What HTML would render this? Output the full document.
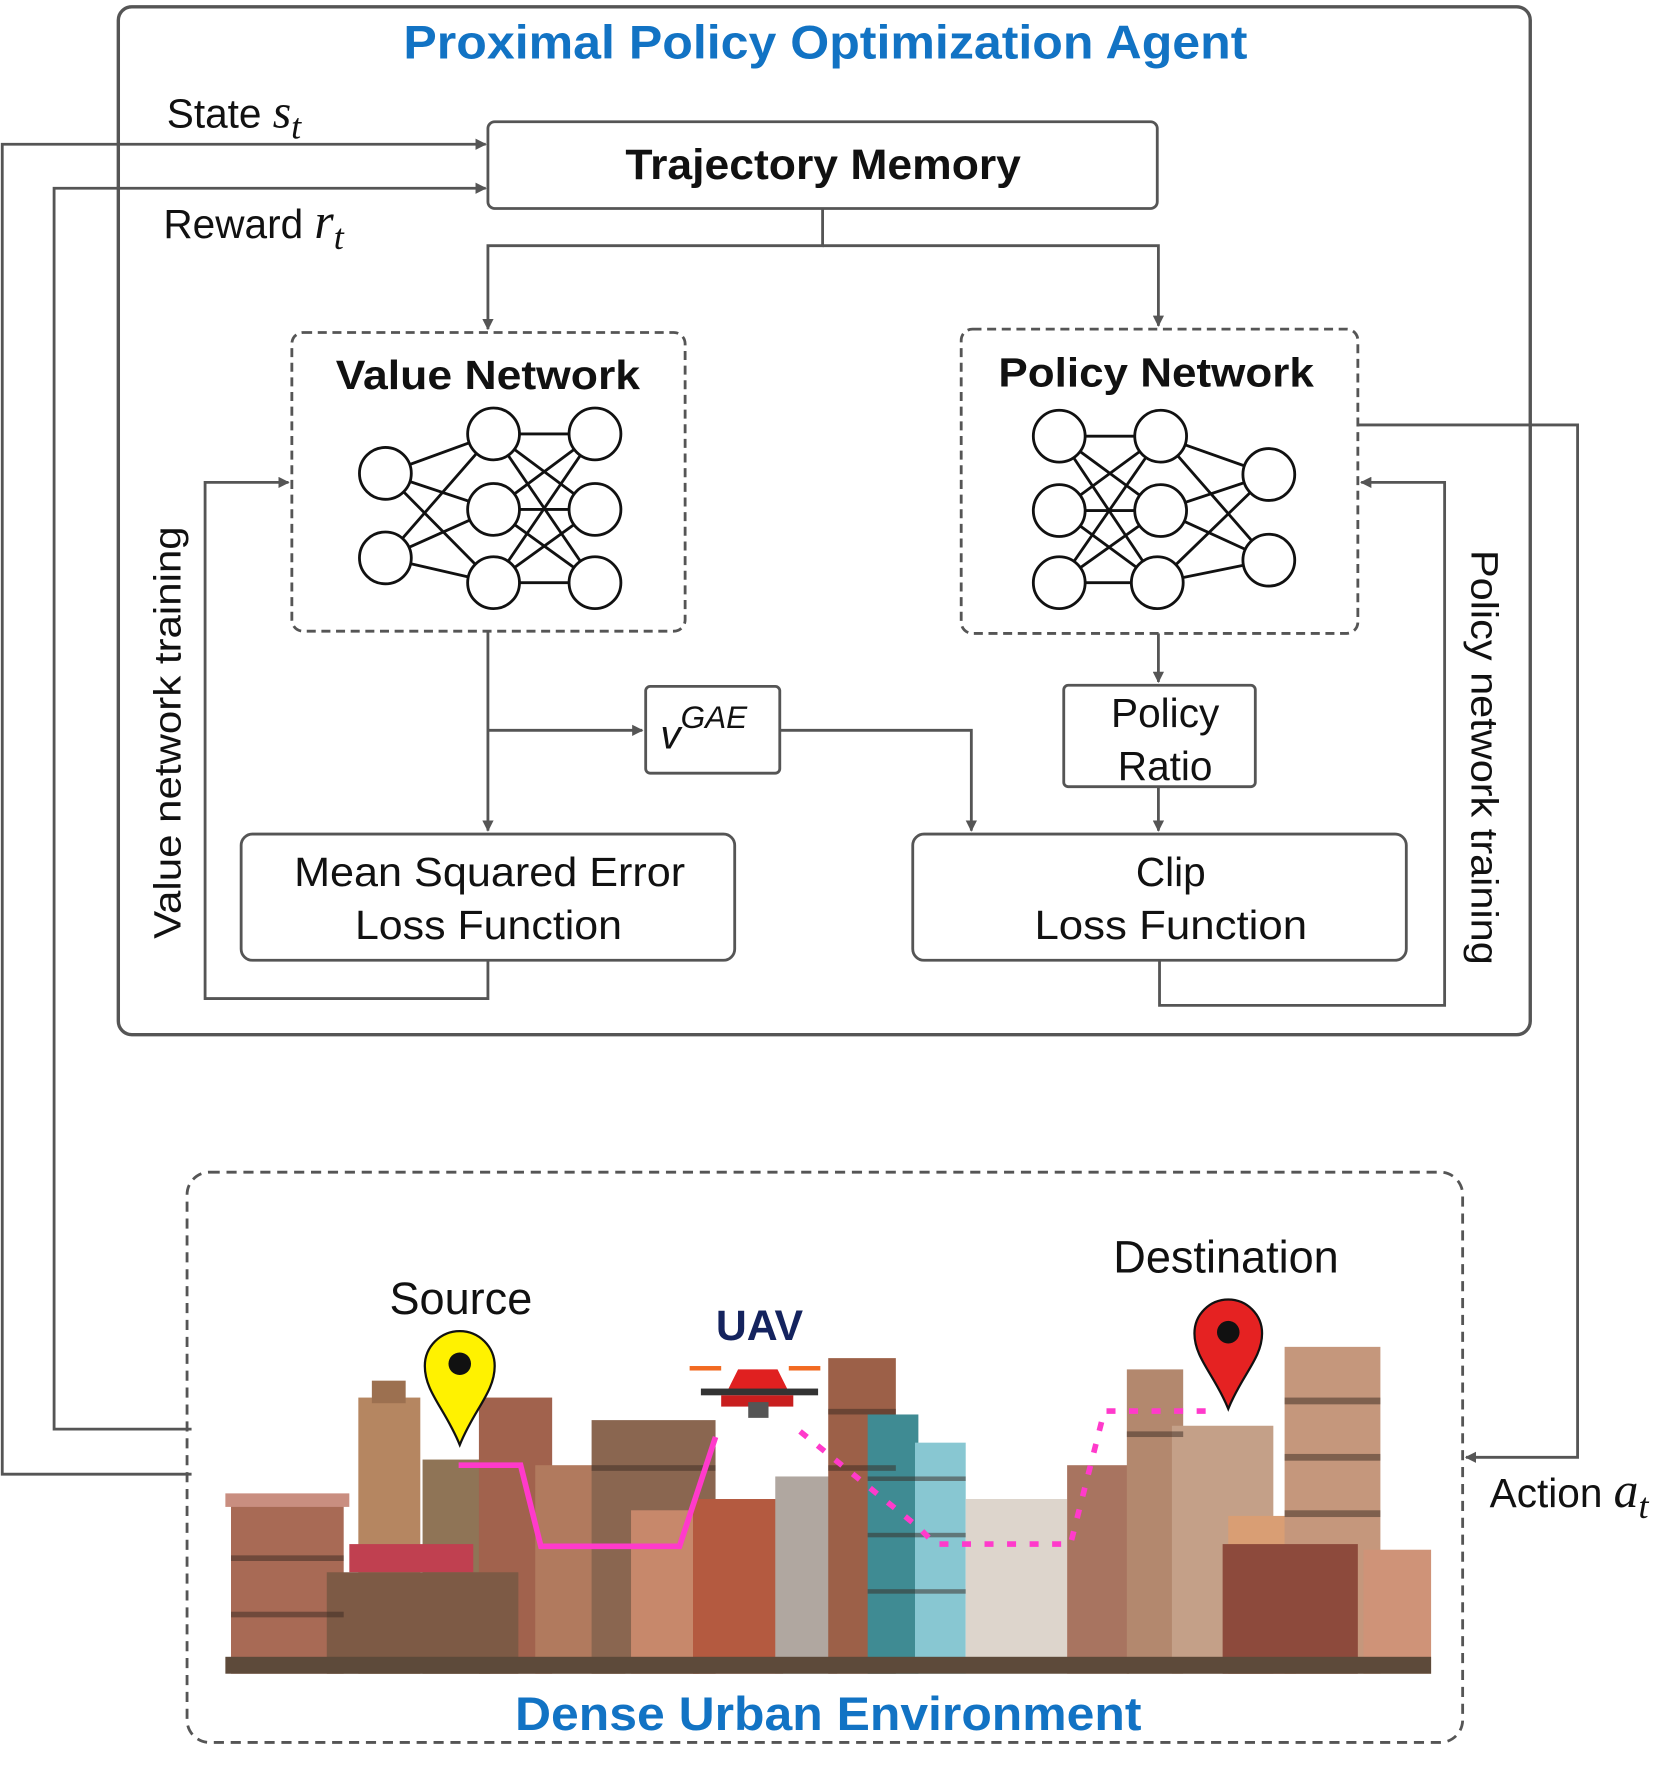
<!DOCTYPE html>
<html><head><meta charset="utf-8"><style>
html,body{margin:0;padding:0;background:#fff;}
svg{display:block;}
text{font-family:"Liberation Sans",sans-serif;}
</style></head><body>
<svg width="1679" height="1765" viewBox="0 0 1490 1566" preserveAspectRatio="none" xmlns="http://www.w3.org/2000/svg">
<defs>
<marker id="a" markerWidth="10" markerHeight="10" refX="9" refY="5" orient="auto" markerUnits="userSpaceOnUse"><path d="M0,0 L10,5 L0,10 z" fill="#555"/></marker>
</defs>
<g fill="none" stroke="#555" stroke-width="2.5">
<rect x="105" y="6" width="1253" height="912" rx="12" stroke-width="3"/>
<rect x="433" y="108" width="594" height="77" rx="6"/>
<rect x="259" y="295" width="349" height="265" rx="10" stroke-dasharray="8,5"/>
<rect x="853" y="292" width="352" height="270" rx="10" stroke-dasharray="8,5"/>
<rect x="573" y="609" width="119" height="77" rx="4"/>
<rect x="944" y="608" width="170" height="90" rx="4"/>
<rect x="214" y="740" width="438" height="112" rx="10"/>
<rect x="810" y="740" width="438" height="112" rx="10"/>
<rect x="166" y="1040" width="1132" height="506" rx="20" stroke-dasharray="9,6"/>
<path d="M170,1308 L2,1308 L2,128 L431,128" marker-end="url(#a)"/>
<path d="M170,1268 L48,1268 L48,167 L431,167" marker-end="url(#a)"/>
<path d="M730,185 L730,218 L433,218 L433,292" marker-end="url(#a)"/>
<path d="M730,218 L1028,218 L1028,289" marker-end="url(#a)"/>
<path d="M433,560 L433,737" marker-end="url(#a)"/>
<path d="M433,648 L570,648" marker-end="url(#a)"/>
<path d="M692,648 L862,648 L862,737" marker-end="url(#a)"/>
<path d="M1028,562 L1028,605" marker-end="url(#a)"/>
<path d="M1028,698 L1028,737" marker-end="url(#a)"/>
<path d="M433,852 L433,886 L182,886 L182,428 L256,428" marker-end="url(#a)"/>
<path d="M1029,852 L1029,892 L1282,892 L1282,428 L1208,428" marker-end="url(#a)"/>
<path d="M1205,377 L1400,377 L1400,1293 L1301,1293" marker-end="url(#a)"/>
</g>
<g stroke="#111" stroke-width="2.5">
<line x1="342" y1="420" x2="438" y2="385"/><line x1="342" y1="420" x2="438" y2="452"/><line x1="342" y1="420" x2="438" y2="517"/>
<line x1="342" y1="495" x2="438" y2="385"/><line x1="342" y1="495" x2="438" y2="452"/><line x1="342" y1="495" x2="438" y2="517"/>
<line x1="438" y1="385" x2="528" y2="385"/><line x1="438" y1="385" x2="528" y2="452"/><line x1="438" y1="385" x2="528" y2="517"/>
<line x1="438" y1="452" x2="528" y2="385"/><line x1="438" y1="452" x2="528" y2="452"/><line x1="438" y1="452" x2="528" y2="517"/>
<line x1="438" y1="517" x2="528" y2="385"/><line x1="438" y1="517" x2="528" y2="452"/><line x1="438" y1="517" x2="528" y2="517"/>
<line x1="940" y1="387" x2="1030" y2="387"/><line x1="940" y1="387" x2="1030" y2="453"/><line x1="940" y1="387" x2="1027" y2="517"/>
<line x1="940" y1="453" x2="1030" y2="387"/><line x1="940" y1="453" x2="1030" y2="453"/><line x1="940" y1="453" x2="1027" y2="517"/>
<line x1="940" y1="517" x2="1030" y2="387"/><line x1="940" y1="517" x2="1030" y2="453"/><line x1="940" y1="517" x2="1027" y2="517"/>
<line x1="1030" y1="387" x2="1126" y2="421"/><line x1="1030" y1="387" x2="1126" y2="497"/>
<line x1="1030" y1="453" x2="1126" y2="421"/><line x1="1030" y1="453" x2="1126" y2="497"/>
<line x1="1027" y1="517" x2="1126" y2="421"/><line x1="1027" y1="517" x2="1126" y2="497"/>
</g>
<g fill="#fff" stroke="#111" stroke-width="2.5">
<circle cx="342" cy="420" r="23"/><circle cx="342" cy="495" r="23"/>
<circle cx="438" cy="385" r="23"/><circle cx="438" cy="452" r="23"/><circle cx="438" cy="517" r="23"/>
<circle cx="528" cy="385" r="23"/><circle cx="528" cy="452" r="23"/><circle cx="528" cy="517" r="23"/>
<circle cx="940" cy="387" r="23"/><circle cx="940" cy="453" r="23"/><circle cx="940" cy="517" r="23"/>
<circle cx="1030" cy="387" r="23"/><circle cx="1030" cy="453" r="23"/><circle cx="1027" cy="517" r="23"/>
<circle cx="1126" cy="421" r="23"/><circle cx="1126" cy="497" r="23"/>
</g>
<text x="358" y="52" textLength="749" lengthAdjust="spacingAndGlyphs" font-size="42" font-weight="bold" fill="#1273c4">Proximal Policy Optimization Agent</text>
<text x="148" y="113" font-size="36" fill="#111">State <tspan font-family="Liberation Serif" font-style="italic" font-size="42">s</tspan><tspan font-family="Liberation Serif" font-style="italic" font-size="32" dy="10">t</tspan></text>
<text x="145" y="211" font-size="36" fill="#111">Reward <tspan font-family="Liberation Serif" font-style="italic" font-size="44">r</tspan><tspan font-family="Liberation Serif" font-style="italic" font-size="32" dy="10">t</tspan></text>
<text x="555" y="159" textLength="351" lengthAdjust="spacingAndGlyphs" font-size="38" font-weight="bold" fill="#111">Trajectory Memory</text>
<text x="298" y="345" textLength="270" lengthAdjust="spacingAndGlyphs" font-size="36" font-weight="bold" fill="#111">Value Network</text>
<text x="886" y="343" textLength="280" lengthAdjust="spacingAndGlyphs" font-size="36" font-weight="bold" fill="#111">Policy Network</text>
<text x="586" y="664" font-family="Liberation Serif" font-style="italic" font-size="36" fill="#111">v<tspan font-size="28" dy="-18">GAE</tspan></text>
<text x="1034" y="645" text-anchor="middle" font-size="36" fill="#111">Policy</text>
<text x="1034" y="692" text-anchor="middle" font-size="36" fill="#111">Ratio</text>
<text x="261" y="786" textLength="347" lengthAdjust="spacingAndGlyphs" font-size="36" fill="#111">Mean Squared Error</text>
<text x="315" y="833" textLength="237" lengthAdjust="spacingAndGlyphs" font-size="36" fill="#111">Loss Function</text>
<text x="1039" y="786" text-anchor="middle" font-size="36" fill="#111">Clip</text>
<text x="918" y="833" textLength="242" lengthAdjust="spacingAndGlyphs" font-size="36" fill="#111">Loss Function</text>
<text transform="translate(160,650) rotate(-90)" text-anchor="middle" font-size="34" fill="#111" textLength="366" lengthAdjust="spacingAndGlyphs">Value network training</text>
<text transform="translate(1306,672) rotate(90)" text-anchor="middle" font-size="34" fill="#111" textLength="368" lengthAdjust="spacingAndGlyphs">Policy network training</text>
<text x="1322" y="1337" font-size="36" fill="#111">Action <tspan font-family="Liberation Serif" font-style="italic" font-size="44">a</tspan><tspan font-family="Liberation Serif" font-style="italic" font-size="32" dy="10">t</tspan></text>
<text x="457" y="1535" textLength="556" lengthAdjust="spacingAndGlyphs" font-size="42" font-weight="bold" fill="#1273c4">Dense Urban Environment</text>
<text x="409" y="1166" text-anchor="middle" font-size="40" fill="#111">Source</text>
<text x="1088" y="1129" text-anchor="middle" font-size="40" fill="#111">Destination</text>
<text x="674" y="1189" text-anchor="middle" font-size="38" font-weight="bold" fill="#14235e">UAV</text>
<g>
<rect x="205" y="1330" width="100" height="155" fill="#a86a55"/>
<rect x="200" y="1325" width="110" height="12" fill="#c98e80"/>
<rect x="318" y="1240" width="55" height="245" fill="#b58661"/>
<rect x="330" y="1225" width="30" height="20" fill="#9c7050"/>
<rect x="375" y="1295" width="60" height="190" fill="#8f7456"/>
<rect x="425" y="1240" width="65" height="245" fill="#a1624d"/>
<rect x="310" y="1370" width="110" height="25" fill="#c04050"/>
<rect x="290" y="1395" width="170" height="90" fill="#7d5a45"/>
<rect x="475" y="1300" width="80" height="185" fill="#b17a5e"/>
<rect x="525" y="1260" width="110" height="225" fill="#8a6650"/>
<rect x="560" y="1340" width="60" height="145" fill="#c7886b"/>
<rect x="615" y="1330" width="80" height="155" fill="#b45a40"/>
<rect x="688" y="1310" width="55" height="175" fill="#b0a7a0"/>
<rect x="735" y="1205" width="60" height="280" fill="#9c6048"/>
<rect x="770" y="1255" width="45" height="230" fill="#3f8b93"/>
<rect x="812" y="1280" width="45" height="205" fill="#88c7d2"/>
<rect x="857" y="1330" width="90" height="155" fill="#ddd5cc"/>
<rect x="947" y="1300" width="55" height="185" fill="#a87460"/>
<rect x="1000" y="1215" width="50" height="270" fill="#b3886e"/>
<rect x="1040" y="1265" width="90" height="220" fill="#c4a088"/>
<rect x="1090" y="1345" width="60" height="140" fill="#d99e74"/>
<rect x="1140" y="1195" width="85" height="290" fill="#c5977c"/>
<rect x="1085" y="1370" width="120" height="115" fill="#8d4a3c"/>
<rect x="1210" y="1375" width="60" height="110" fill="#cf9378"/>
<g fill="#3a2a22" opacity="0.5">
<rect x="205" y="1380" width="100" height="5"/><rect x="205" y="1430" width="100" height="5"/>
<rect x="1140" y="1240" width="85" height="6"/><rect x="1140" y="1290" width="85" height="6"/><rect x="1140" y="1340" width="85" height="6"/>
<rect x="735" y="1250" width="60" height="5"/><rect x="735" y="1300" width="60" height="5"/>
<rect x="770" y="1310" width="87" height="4"/><rect x="770" y="1360" width="87" height="4"/><rect x="770" y="1410" width="87" height="4"/>
<rect x="1000" y="1270" width="50" height="5"/><rect x="525" y="1300" width="110" height="5"/>
</g>
<rect x="200" y="1470" width="1070" height="15" fill="#5d4a3a"/>
</g>
<g fill="none" stroke="#ff3acb" stroke-width="5">
<path d="M407,1300 L462,1300 L480,1372 L603,1372 L635,1275"/>
<path d="M710,1270 L815,1355 L830,1370 L950,1370 L980,1252 L1080,1252" stroke-dasharray="8,12"/>
</g>
<g>
<rect x="612" y="1212" width="28" height="4" fill="#f26a22"/><rect x="700" y="1212" width="28" height="4" fill="#f26a22"/>
<path d="M655,1215 L690,1215 L700,1235 L645,1235 z" fill="#e02020"/>
<rect x="622" y="1232" width="104" height="6" fill="#333"/>
<rect x="640" y="1238" width="64" height="10" fill="#c81e1e"/>
<rect x="664" y="1244" width="18" height="14" fill="#555"/>
</g>
<path d="M408,1282 C395,1250 377,1235 377,1212 A31,31 0 0 1 439,1212 C439,1235 421,1250 408,1282 z" fill="#fff200" stroke="#111" stroke-width="2"/>
<circle cx="408" cy="1210" r="10" fill="#111"/>
<path d="M1090,1250 C1078,1220 1060,1205 1060,1183 A30,30 0 0 1 1120,1183 C1120,1205 1102,1220 1090,1250 z" fill="#e52222" stroke="#111" stroke-width="2"/>
<circle cx="1090" cy="1182" r="10" fill="#111"/>
</svg>
</body></html>
